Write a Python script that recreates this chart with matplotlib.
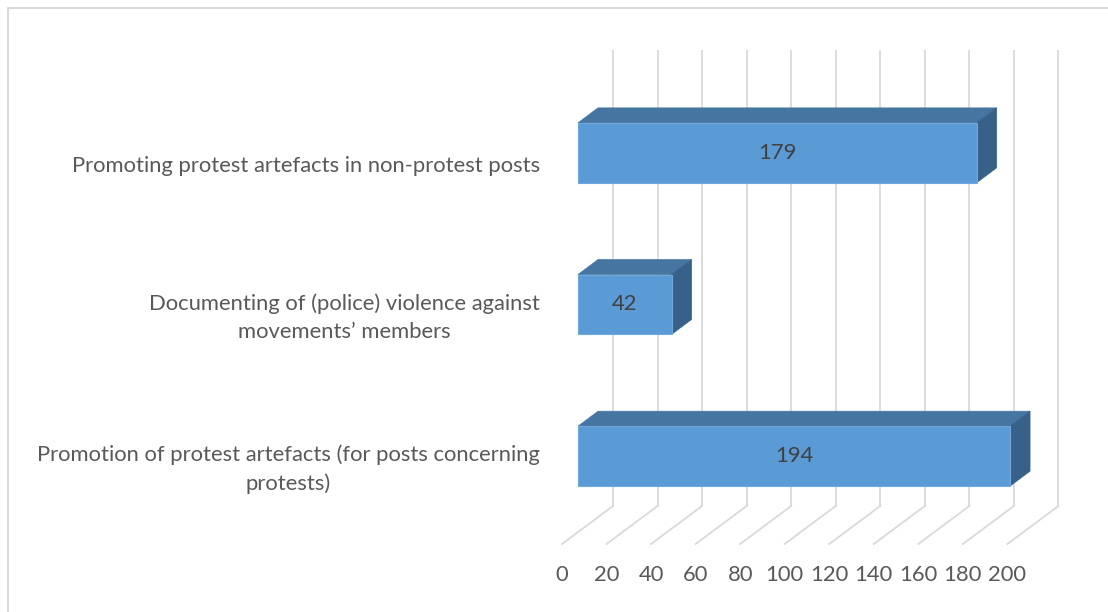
# 3D-style horizontal bar chart (Excel look) drawn with plain matplotlib patches

import matplotlib.pyplot as plt
from matplotlib.patches import Polygon
from matplotlib.lines import Line2D
from matplotlib.transforms import IdentityTransform, offset_copy
import numpy as np

categories = ["Promotion of protest artefacts (for posts concerning\nprotests)",
              "Documenting of (police) violence against\nmovements\u2019 members",
              "Promoting protest artefacts in non-protest posts"]
values = [194, 42, 179]
ticks = list(range(0, 201, 20))

plt.rcParams['font.family'] = ['Lato', 'DejaVu Sans']

W, H = 1108, 612
fig = plt.figure(figsize=(W / 100, H / 100), dpi=100)
ax = fig.add_axes([578 / W, (H - 532) / H, 445.4 / W, 455 / H])
ax.set_xlim(0, 200)
ax.set_ylim(-0.5, 2.5)
ax.set_autoscale_on(False)
ax.axis('off')

# depth offsets in pixels (display coords, y up)
WALL = np.array([35, 26])
FLOOR = np.array([-16, -12])
BACK = np.array([20, 15])
grid_col = '#d9d9d9'
txt_col = '#595959'
fs = 15.8

def px(x, y, off=(0, 0)):
    return ax.transData.transform((x, y)) + np.asarray(off)

ident = IdentityTransform()

# back wall gridlines and floor lines
for t in ticks:
    a, b = px(t, -0.5, WALL), px(t, 2.5, WALL)
    ax.add_line(Line2D([a[0], b[0]], [a[1], b[1]], color=grid_col, lw=1.3,
                       transform=ident, clip_on=False, zorder=1))
    f = px(t, -0.5, FLOOR)
    ax.add_line(Line2D([f[0], a[0]], [f[1], a[1]], color=grid_col, lw=1.3,
                       transform=ident, clip_on=False, zorder=1))

# tick labels at the front of the floor
tick_tr = offset_copy(ax.transData, fig, x=FLOOR[0], y=FLOOR[1] - 31, units='dots')
for t in ticks:
    ax.text(t, -0.5, str(t), transform=tick_tr, ha='center', va='center',
            fontsize=fs, color=txt_col)

# bars
h = 0.395
for i, v in enumerate(values):
    bl, br = px(0, i - h / 2), px(v, i - h / 2)
    tl, tr = px(0, i + h / 2), px(v, i + h / 2)
    top = Polygon([tl, tr, tr + BACK, tl + BACK], closed=True, transform=ident,
                  facecolor='#4675a1', edgecolor='#4675a1', lw=0.5, clip_on=False, zorder=3)
    side = Polygon([br, tr, tr + BACK, br + BACK], closed=True, transform=ident,
                   facecolor='#386189', edgecolor='#386189', lw=0.5, clip_on=False, zorder=3)
    front = Polygon([bl, br, tr, tl], closed=True, transform=ident,
                    facecolor='#5b9bd5', edgecolor='#6fa8dc', lw=0.8, clip_on=False, zorder=4)
    for p in (top, side, front):
        ax.add_patch(p)
    ax.text(v / 2, i, str(v), ha='center', va='center', fontsize=fs,
            color='#404040', zorder=5)

# category labels
cat_tr = offset_copy(ax.transData, fig, x=-38, y=-13, units='dots')
for i, c in enumerate(categories):
    ax.text(0, i, c, transform=cat_tr, ha='right', va='center',
            multialignment='center', fontsize=fs, color=txt_col, linespacing=1.5)

# chart border (top and left visible)
fig.add_artist(Line2D([7.5, 7.5, W], [0, H - 7.5, H - 7.5], color=grid_col,
                      lw=1.5, transform=ident))

fig.savefig('out.png', dpi=100)
